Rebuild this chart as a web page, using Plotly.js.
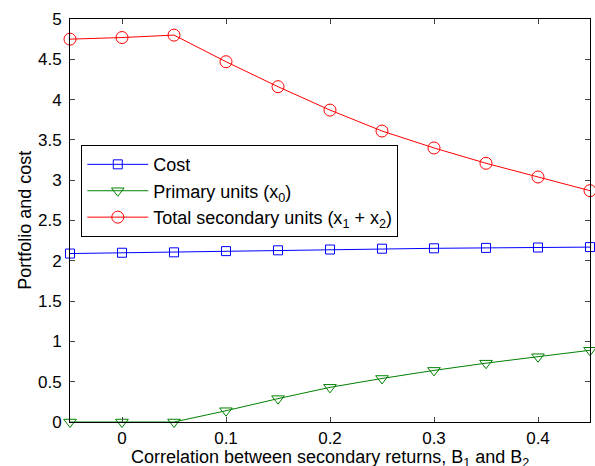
<!DOCTYPE html>
<html>
<head>
<meta charset="utf-8">
<script src="https://cdn.plot.ly/plotly-3.0.1.min.js"></script>
<style>html,body{margin:0;padding:0;background:#fff;}#chart{width:595px;height:466px;}</style>
</head>
<body>
<div id="chart"></div>
<script>
const correlation = [-0.05, 0, 0.05, 0.1, 0.15, 0.2, 0.25, 0.3, 0.35, 0.4, 0.45];
const cost = [2.09, 2.10, 2.105, 2.12, 2.13, 2.14, 2.15, 2.155, 2.16, 2.165, 2.17];
const primaryUnits = [0, 0, 0, 0.14, 0.29, 0.43, 0.54, 0.64, 0.73, 0.81, 0.89];
const totalSecondary = [4.75, 4.77, 4.80, 4.47, 4.16, 3.87, 3.61, 3.40, 3.21, 3.04, 2.87];
const xTicks = [0, 0.1, 0.2, 0.3, 0.4];
const xTickLabels = ['0', '0.1', '0.2', '0.3', '0.4'];
const yTicks = [0, 0.5, 1, 1.5, 2, 2.5, 3, 3.5, 4, 4.5, 5];
const yTickLabels = ['0', '0.5', '1', '1.5', '2', '2.5', '3', '3.5', '4', '4.5', '5'];
const seriesNames = ['Cost', 'Primary units (x<sub>0</sub>)', 'Total secondary units (x<sub>1</sub> + x<sub>2</sub>)'];

const font = 'Liberation Sans, Arial, Helvetica, sans-serif';

const traces = [
  {x: correlation, y: cost, name: seriesNames[0], legendgroup: 'g1', mode: 'lines+markers', cliponaxis: false,
   line: {color: '#0000ff', width: 1}, marker: {symbol: 'square-open', size: 9, color: '#0000ff', line: {width: 1}}},
  {x: correlation, y: primaryUnits, name: seriesNames[1], legendgroup: 'g2', mode: 'lines+markers', cliponaxis: false,
   line: {color: '#008000', width: 1}, marker: {symbol: 'triangle-down-open', size: 11, color: '#008000', line: {width: 1}}},
  {x: correlation, y: totalSecondary, name: seriesNames[2], legendgroup: 'g3', mode: 'lines+markers', cliponaxis: false,
   line: {color: '#ff0000', width: 1}, marker: {symbol: 'circle-open', size: 12, color: '#ff0000', line: {width: 1}}}
];

const layout = {
  width: 595, height: 466,
  margin: {l: 70, r: 5, t: 19, b: 44.3},
  paper_bgcolor: '#fff', plot_bgcolor: '#fff',
  font: {family: font, size: 17, color: '#000'},
  showlegend: true,
  legend: {x: 0.0217, y: 0.687, xanchor: 'left', yanchor: 'top', bgcolor: '#fff',
           bordercolor: '#000', borderwidth: 1, font: {family: font, size: 18, color: '#000'},
           itemwidth: 61, tracegroupgap: 5, traceorder: 'normal'},
  xaxis: {range: [-0.05, 0.45], tickvals: xTicks, ticktext: xTickLabels, ticks: 'inside', ticklen: 5,
          showline: true, linecolor: '#000', linewidth: 1, mirror: 'ticks', showgrid: false, zeroline: false,
          tickfont: {family: font, size: 17}, ticklabelstandoff: 1},
  yaxis: {range: [0, 5], tickvals: yTicks, ticktext: yTickLabels, ticks: 'inside', ticklen: 5,
          showline: true, linecolor: '#000', linewidth: 1, mirror: 'ticks', showgrid: false, zeroline: false,
          tickfont: {family: font, size: 17}, ticklabelstandoff: 4},
  annotations: [
    {text: 'Correlation between secondary returns, B<sub>1</sub> and B<sub>2</sub>', xref: 'paper', yref: 'paper',
     x: 0.5, y: -0.057, xanchor: 'center', yanchor: 'top', showarrow: false, font: {family: font, size: 18}},
    {text: 'Portfolio and cost', xref: 'paper', yref: 'paper', x: -0.088, y: 0.5, textangle: -90,
     xanchor: 'center', yanchor: 'middle', showarrow: false, font: {family: font, size: 18}}
  ]
};

Plotly.newPlot('chart', traces, layout, {displayModeBar: false, staticPlot: true});
</script>
</body>
</html>
